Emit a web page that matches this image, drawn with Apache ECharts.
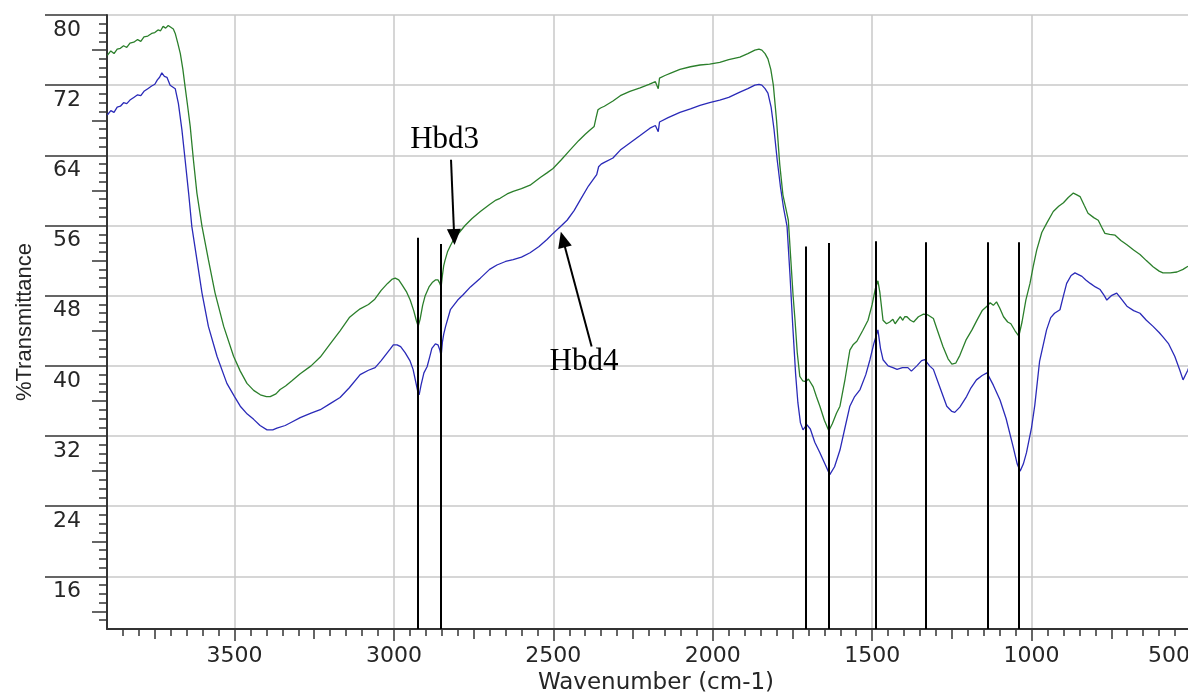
<!DOCTYPE html>
<html>
<head>
<meta charset="utf-8">
<title>FTIR spectra Hbd3 / Hbd4</title>
<script src="https://cdn.jsdelivr.net/npm/echarts@6/dist/echarts.min.js"></script>
<style>
  html, body { margin: 0; padding: 0; background: #ffffff; }
  #chart { width: 1188px; height: 692px; }
</style>
</head>
<body>
<div id="chart"></div>
<script>
// FTIR transmittance spectra, wavenumber in cm-1 (descending)
const hbd3Wavenumber = [
  3899, 3888, 3878, 3868, 3858, 3848, 3838, 3828, 3816, 3804, 3794, 3784, 3772, 3760, 3750, 3740,
  3732, 3724, 3716, 3708, 3700, 3692, 3686, 3678, 3670, 3662, 3655, 3647, 3639, 3629, 3618, 3602,
  3582, 3561, 3534, 3503, 3482, 3461, 3440, 3419, 3400, 3388, 3370, 3357,
  3340, 3320, 3294, 3260, 3231, 3200, 3169, 3140, 3120, 3106, 3080, 3060, 3040, 3020, 3005, 2996,
  2985, 2974, 2960, 2949, 2938, 2930, 2924, 2918, 2910, 2902, 2890, 2880, 2870, 2862, 2856, 2852,
  2848, 2844, 2840, 2832, 2823, 2810, 2795, 2777, 2755, 2729, 2700, 2680, 2667, 2645, 2626, 2600,
  2573, 2540, 2520, 2501, 2475, 2448, 2420, 2400, 2385, 2372, 2366, 2360, 2352, 2340, 2313, 2290,
  2260, 2228, 2200, 2180, 2174, 2171, 2167, 2150, 2130, 2103, 2070, 2040, 2010, 1978, 1950, 1915,
  1890, 1868, 1855, 1846, 1836, 1827, 1818, 1810, 1800, 1790, 1780, 1770, 1763, 1755, 1748, 1742,
  1735, 1727, 1718, 1708, 1700, 1695, 1685, 1675, 1664, 1650, 1636, 1625, 1612, 1601, 1585, 1570,
  1560, 1548, 1530, 1513, 1500, 1490, 1482, 1476, 1466, 1455, 1445, 1435, 1428, 1422, 1412, 1404,
  1398, 1391, 1380, 1370, 1355, 1339, 1325, 1308, 1295, 1278, 1262, 1250, 1238, 1225, 1205, 1187,
  1170, 1155, 1140, 1130, 1120, 1110, 1100, 1088, 1075, 1065, 1052, 1040, 1030, 1018, 1005, 995,
  984, 968, 952, 932, 915, 900, 885, 869, 858, 848, 835, 823, 805, 791, 780, 770,
  755, 738, 720, 701, 680, 660, 640, 619, 600, 588, 565, 544, 525, 512, 505
];
const hbd3Transmittance = [
  75.4, 75.9, 75.6, 76.1, 76.2, 76.5, 76.3, 76.8, 76.9, 77.2, 77.0, 77.5, 77.6, 77.9, 78.0, 78.3,
  78.2, 78.7, 78.5, 78.8, 78.6, 78.4, 77.9, 76.8, 75.6, 73.8, 71.8, 69.6, 67.3, 63.5, 59.7, 55.9,
  52.1, 48.3, 44.5, 41.1, 39.4, 38.0, 37.2, 36.7, 36.5, 36.5, 36.8, 37.3,
  37.7, 38.3, 39.1, 40.0, 41.0, 42.5, 44.0, 45.5, 46.1, 46.5, 47.0, 47.6, 48.6, 49.4, 49.9, 50.0,
  49.8, 49.2, 48.4, 47.5, 46.3, 45.2, 44.5, 45.3, 46.9, 48.0, 49.0, 49.5, 49.8, 49.8, 49.4, 49.0,
  50.3, 51.4, 52.0, 53.0, 53.7, 54.6, 55.2, 56.0, 56.8, 57.6, 58.4, 58.9, 59.1, 59.6, 59.9, 60.2,
  60.6, 61.5, 62.0, 62.5, 63.5, 64.6, 65.7, 66.4, 66.9, 67.3, 68.3, 69.2, 69.4, 69.6, 70.2, 70.8,
  71.3, 71.7, 72.1, 72.4, 72.5, 71.6, 72.8, 73.1, 73.4, 73.8, 74.1, 74.3, 74.4, 74.6, 74.9, 75.2,
  75.6, 76.0, 76.1, 76.0, 75.6, 75.0, 73.8, 72.0, 68.0, 63.0, 59.5, 57.8, 56.6, 52.0, 48.0, 45.2,
  41.5, 38.8, 38.3, 38.2, 38.5, 38.4, 37.6, 36.5, 35.4, 33.8, 32.6, 33.4, 34.6, 35.4, 38.5, 41.8,
  42.4, 42.8, 44.0, 45.2, 47.0, 48.8, 49.7, 48.4, 45.2, 44.8, 45.0, 45.3, 44.8, 44.9, 45.6, 45.2,
  45.6, 45.6, 45.2, 45.0, 45.6, 45.9, 45.8, 45.4, 44.0, 42.2, 40.8, 40.2, 40.3, 41.2, 43.0, 44.1,
  45.3, 46.3, 46.8, 47.2, 46.9, 47.3, 46.6, 45.6, 45.0, 44.8, 44.0, 43.4, 45.0, 47.5, 49.4, 51.3,
  53.2, 55.2, 56.3, 57.6, 58.2, 58.6, 59.2, 59.7, 59.5, 59.3, 58.3, 57.4, 56.9, 56.6, 55.8, 55.1,
  55.0, 54.9, 54.3, 53.8, 53.2, 52.7, 52.0, 51.3, 50.8, 50.6, 50.6, 50.7, 51.0, 51.3, 51.4
];

const hbd4Wavenumber = [
  3899, 3888, 3878, 3868, 3858, 3848, 3838, 3828, 3816, 3804, 3794, 3784, 3772, 3760, 3750, 3742,
  3735, 3728, 3720, 3712, 3702, 3694, 3686, 3676, 3665, 3655, 3644, 3634, 3618, 3602, 3582, 3555,
  3524, 3500, 3482, 3460, 3440, 3420, 3398, 3380, 3367, 3341, 3320, 3294, 3260,
  3231, 3200, 3169, 3140, 3106, 3080, 3059, 3040, 3012, 3002, 2990, 2979, 2965, 2950, 2940, 2933,
  2926, 2921, 2915, 2906, 2896, 2888, 2881, 2870, 2862, 2856, 2852, 2848, 2844, 2838, 2823, 2800,
  2783, 2760, 2729, 2700, 2677, 2650, 2626, 2600, 2573, 2545, 2520, 2501, 2480, 2457, 2435, 2416,
  2390, 2372, 2364, 2358, 2350, 2340, 2313, 2290, 2260, 2230, 2197, 2180, 2174, 2171, 2167, 2140,
  2103, 2070, 2040, 2010, 1978, 1950, 1915, 1890, 1868, 1855, 1846, 1836, 1827, 1817, 1808, 1798,
  1788, 1778, 1767, 1758, 1749, 1740, 1733, 1725, 1717, 1705, 1694, 1680, 1664, 1648, 1633, 1618,
  1601, 1585, 1570, 1555, 1538, 1520, 1507, 1495, 1482, 1474, 1466, 1450, 1435, 1422, 1405, 1388,
  1377, 1360, 1345, 1335, 1320, 1308, 1290, 1266, 1250, 1241, 1225, 1204, 1190, 1173, 1155, 1140,
  1120, 1099, 1080, 1058, 1045, 1036, 1026, 1016, 1000, 990, 975, 953, 940, 928, 911, 900,
  890, 876, 864, 853, 842, 830, 816, 800, 785, 772, 764, 750, 733, 718, 701, 680,
  660, 640, 619, 600, 588, 570, 551, 535, 525, 510, 505
];
const hbd4Transmittance = [
  68.6, 69.1, 68.9, 69.5, 69.6, 70.0, 69.9, 70.3, 70.6, 70.9, 70.8, 71.3, 71.6, 71.9, 72.1, 72.6,
  72.9, 73.4, 73.0, 72.9, 72.0, 71.8, 71.6, 69.9, 66.9, 63.5, 59.7, 55.9, 52.1, 48.3, 44.5, 41.1,
  38.0, 36.5, 35.4, 34.5, 33.9, 33.2, 32.7, 32.7, 32.9, 33.2, 33.6, 34.1, 34.6,
  35.0, 35.7, 36.4, 37.5, 39.0, 39.5, 39.8, 40.6, 41.9, 42.4, 42.4, 42.2, 41.5, 40.6, 39.6, 38.4,
  37.2, 36.7, 37.8, 39.2, 39.9, 41.0, 42.0, 42.5, 42.4, 41.8, 41.1, 42.7, 43.6, 44.5, 46.4, 47.5,
  48.1, 49.0, 50.0, 51.0, 51.5, 51.9, 52.1, 52.4, 52.9, 53.6, 54.4, 55.1, 55.8, 56.6, 57.7, 58.9,
  60.5, 61.4, 61.8, 62.7, 63.0, 63.2, 63.7, 64.6, 65.4, 66.2, 67.1, 67.4, 67.5, 66.7, 67.8, 68.3,
  68.9, 69.3, 69.7, 70.0, 70.3, 70.6, 71.2, 71.6, 72.0, 72.1, 72.0, 71.6, 71.1, 69.5, 67.0, 63.5,
  60.5, 58.0, 55.9, 50.5, 44.5, 39.0, 35.8, 33.5, 32.7, 33.3, 32.8, 31.3, 30.1, 28.8, 27.6, 28.5,
  30.4, 33.0, 35.4, 36.5, 37.3, 39.0, 40.7, 42.5, 44.1, 42.0, 40.7, 40.0, 39.8, 39.6, 39.8, 39.8,
  39.4, 40.0, 40.6, 40.7, 40.0, 39.6, 37.8, 35.4, 34.8, 34.7, 35.3, 36.5, 37.5, 38.4, 38.9, 39.2,
  37.8, 36.1, 34.0, 30.8, 28.8, 28.0, 28.8, 30.1, 33.0, 35.5, 40.5, 44.1, 45.5, 46.0, 46.4, 48.0,
  49.4, 50.3, 50.6, 50.4, 50.2, 49.8, 49.4, 49.0, 48.7, 48.0, 47.5, 48.0, 48.3, 47.6, 46.8, 46.3,
  46.0, 45.2, 44.5, 43.8, 43.3, 42.5, 41.1, 39.5, 38.4, 39.5, 40.0
];

// Marked absorption bands: position (cm-1) and top of each marker (%T)
const bandWavenumbers = [2925, 2852, 1708, 1636, 1489, 1332, 1139, 1040];
const bandMarkerTops = [54.6, 53.9, 53.6, 54.0, 54.2, 54.1, 54.1, 54.1];

// Sample labels with arrows: [wavenumber, %T]
const sampleNames = ['Hbd3', 'Hbd4'];
const sampleLabelAt = [[2841, 65.8], [2404, 40.4]];
const sampleArrowFrom = [[2821, 63.5], [2380, 42.2]];
const sampleArrowTo = [[2811, 54.7], [2470, 54.4]];

// Axis ticks
const xTickLabels = [3500, 3000, 2500, 2000, 1500, 1000, 500];
const yTickLabels = [16, 24, 32, 40, 48, 56, 64, 72, 80];
const X_MIN = 500, X_MAX = 3900, Y_MIN = 10, Y_MAX = 80;

const xMidTicks = [];
for (let v = 750; v < X_MAX; v += 500) xMidTicks.push(v);
const xSmallTicks = [];
for (let v = 550; v < X_MAX; v += 50) xSmallTicks.push(v);
const yMidTicks = [];
for (let v = 12; v < Y_MAX; v += 8) yMidTicks.push(v);
const ySmallTicks = [];
for (let v = 11; v < Y_MAX; v += 1) ySmallTicks.push(v);

const pairs = (xs, ys) => xs.map((x, i) => [x, ys[i]]);

const AXIS_COLOR = '#333333';
const TEXT_COLOR = '#262626';
const GRID_COLOR = '#c9c9c9';
const TICK_FONT = { color: TEXT_COLOR, fontFamily: 'DejaVu Sans', fontSize: 22 };

function xAxisLayer(ticks, len, withLabels) {
  return {
    type: 'value', inverse: true, min: X_MIN, max: X_MAX, gridIndex: 0, position: 'bottom',
    axisLine: { show: withLabels, onZero: false, lineStyle: { color: AXIS_COLOR, width: 2 } },
    axisTick: { show: true, customValues: ticks, length: len, lineStyle: { color: AXIS_COLOR, width: 1.5 } },
    axisLabel: withLabels ? Object.assign({
      show: true, customValues: ticks, margin: 16,
      // the label at the right edge is kept inside the plot width
      formatter: (v) => (v === X_MIN ? '{edge|' + v + '}' : String(v)),
      rich: { edge: Object.assign({ width: 86, align: 'left' }, TICK_FONT) }
    }, TICK_FONT) : { show: false },
    splitLine: { show: withLabels, lineStyle: { color: GRID_COLOR, width: 1.5 } },
    name: withLabels ? 'Wavenumber (cm-1)' : '',
    nameLocation: 'middle', nameGap: 35,
    nameTextStyle: { color: TEXT_COLOR, fontFamily: 'DejaVu Sans', fontSize: 23, padding: [0, 0, 0, 14] }
  };
}

function yAxisLayer(ticks, len, withLabels) {
  return {
    type: 'value', min: Y_MIN, max: Y_MAX, gridIndex: 0, position: 'left',
    axisLine: { show: withLabels, onZero: false, lineStyle: { color: AXIS_COLOR, width: 2 } },
    axisTick: { show: true, customValues: ticks, length: len, lineStyle: { color: AXIS_COLOR, width: 1.5 } },
    axisLabel: withLabels ? Object.assign({
      show: true, customValues: ticks,
      align: 'center', verticalAlign: 'top', lineHeight: 22, padding: [4, 0, 0, 0], margin: 40,
      formatter: (v) => String(v)
    }, TICK_FONT) : { show: false },
    splitLine: { show: withLabels, lineStyle: { color: GRID_COLOR, width: 1.5 } },
    name: withLabels ? '%Transmittance' : '',
    nameLocation: 'middle', nameGap: 71,
    nameTextStyle: { color: TEXT_COLOR, fontFamily: 'Liberation Sans', fontSize: 22 }
  };
}

const bandLines = bandWavenumbers.map((w, i) => [
  { coord: [w, bandMarkerTops[i]] },
  { coord: [w, Y_MIN] }
]);
const arrowLines = sampleNames.map((n, i) => [
  { coord: sampleArrowFrom[i], symbol: 'none' },
  { coord: sampleArrowTo[i], symbol: 'triangle', symbolSize: [14, 16] }
]);
const nameMarks = sampleNames.map((n, i) => ({
  coord: sampleLabelAt[i], value: n, symbol: 'circle', symbolSize: 0,
  label: {
    show: true, position: 'inside', formatter: n, color: '#000000',
    fontFamily: 'Liberation Serif', fontSize: 31
  }
}));

const chart = echarts.init(document.getElementById('chart'), null, { renderer: 'canvas' });
chart.setOption({
  animation: false,
  backgroundColor: '#ffffff',
  grid: { left: 107, right: -3, top: 15, bottom: 63, containLabel: false, outerBoundsMode: 'none' },
  xAxis: [
    xAxisLayer(xTickLabels, 12, true),
    xAxisLayer(xMidTicks, 10, false),
    xAxisLayer(xSmallTicks, 7, false)
  ],
  yAxis: [
    yAxisLayer(yTickLabels, 62, true),
    yAxisLayer(yMidTicks, 15, false),
    yAxisLayer(ySmallTicks, 8, false)
  ],
  series: [
    {
      name: 'Hbd4', type: 'line', xAxisIndex: 0, yAxisIndex: 0,
      data: pairs(hbd4Wavenumber, hbd4Transmittance),
      showSymbol: false, symbol: 'none', smooth: false,
      lineStyle: { color: '#2a2ab8', width: 1.3 },
      z: 3
    },
    {
      name: 'Hbd3', type: 'line', xAxisIndex: 0, yAxisIndex: 0,
      data: pairs(hbd3Wavenumber, hbd3Transmittance),
      showSymbol: false, symbol: 'none', smooth: false,
      lineStyle: { color: '#2b7f2b', width: 1.3 },
      z: 3,
      markLine: {
        silent: true, symbol: ['none', 'none'], label: { show: false },
        lineStyle: { color: '#000000', width: 2, type: 'solid' },
        data: bandLines.concat(arrowLines)
      },
      markPoint: { silent: true, data: nameMarks }
    }
  ]
});
</script>
</body>
</html>
